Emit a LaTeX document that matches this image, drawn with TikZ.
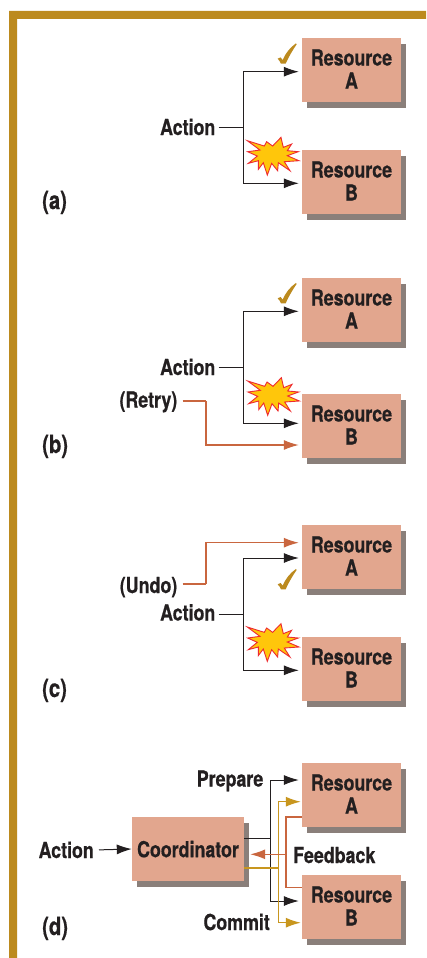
\documentclass[tikz,border=0pt]{standalone}
\usepackage{fontspec}
\setmainfont{TeX Gyre Heros}[FakeStretch=0.81,BoldFeatures={FakeBold=0.6}]
\usetikzlibrary{arrows.meta,shadows,calc}
\definecolor{frameC}{HTML}{BC8A1E}
\definecolor{boxC}{HTML}{E2A68E}
\definecolor{shadC}{HTML}{8A7F7A}
\definecolor{inkC}{HTML}{231F20}
\definecolor{retryC}{HTML}{C9663F}
\definecolor{goldC}{HTML}{C8961E}
\definecolor{burstF}{HTML}{FFC60B}
\definecolor{burstL}{HTML}{EE2A2F}
\tikzset{
 x=1pt,y=-1pt,
 every node/.style={font=\fontsize{22}{23}\selectfont\bfseries,text=inkC},
 resbox/.style={fill=boxC,inner sep=0pt,minimum width=99pt,minimum height=64pt,align=center,text depth=2pt,
   drop shadow={shadow xshift=5pt,shadow yshift=-6pt,opacity=1,fill=shadC}},
 coordbox/.style={resbox,minimum width=112pt,text depth=0pt},
 lab/.style={inner sep=0pt,text height=16pt,text depth=0pt},
 tag/.style={lab,font=\fontsize{25}{25}\selectfont\bfseries},
 conn/.style={draw=inkC,line width=1pt},
 connA/.style={conn,-{Latex[length=15pt,width=10pt]},shorten >=3pt},
 undoL/.style={draw=retryC,line width=1.3pt},
 undoA/.style={undoL,-{Latex[length=15pt,width=10pt]},shorten >=3pt},
 goldL/.style={draw=goldC,line width=1.3pt},
 goldA/.style={goldL,-{Latex[length=15pt,width=10pt]},shorten >=1pt},
 burst/.pic={
  \begin{scope}[x=.3333pt,y=-.3333pt]
  \draw[fill=burstF,draw=burstL,line width=.9pt,line join=miter]
   (-75,-45)--(-24,-29)--(-17,-42)--(1,-29)--(26,-55)--(33,-25)--(58,-35)--(45,-15)--(78,-12)--(45,0)--(80,15)--(36,18)--(53,45)--(18,21)--(16,45)--(-2,23)--(-15,58)--(-27,21)--(-42,41)--(-42,15)--(-72,23)--(-45,1)--(-74,-12)--(-37,-17)--cycle;
  \end{scope}},
 tick/.pic={
  \begin{scope}[x=.3333pt,y=-.3333pt]
  \fill[frameC] (-17,-12)--(-8,-16)--(-2,-8) .. controls (6,-27) and (20,-46) .. (38,-58) -- (40,-55) .. controls (28,-38) and (15,-15) .. (7,3) -- (-7,3) .. controls (-9,-3) and (-13,-8) .. cycle;
  \end{scope}},
}
\begin{document}
\begin{tikzpicture}
\useasboundingbox (0,0) rectangle (426,958);
\fill[white] (0,0) rectangle (426,958);
\fill[frameC] (9,958)--(9,11)--(426,11)--(426,19)--(17,19)--(17,958)--cycle;
% ---- (a)
\node[resbox] (ra) at (351.5,70) {Resource\\A};
\node[resbox] (rb) at (351.5,182) {Resource\\B};
\node[lab,anchor=east] (acta) at (215.5,127) {Action};
\node[tag,anchor=west] (la) at (42,201) {(a)};
\coordinate (ja) at (243.5,127.7);
\draw[conn,shorten <=3pt] (acta.east |- ja) -- (ja);
\draw[connA] (ja) |- ([yshift=-1.7pt]ra.west);
\draw[connA] (ja) |- ([yshift=-1.3pt]rb.west);
\pic at (283.3,62.7) {tick};
\pic at (272.3,155.7) {burst};
% ---- (b)
\node[resbox] (rc) at (351.5,310) {Resource\\A};
\node[resbox] (rd) at (351.5,426) {Resource\\B};
\node[lab,anchor=east] (actb) at (215.5,367) {Action};
\node[lab,anchor=east] (retry) at (177.5,399.5) {(Retry)};
\node[tag,anchor=west] (lb) at (42,445) {(b)};
\coordinate (jb) at (243.5,367.3);
\coordinate (jr) at (206,401);
\draw[conn,shorten <=3pt] (actb.east |- jb) -- (jb);
\draw[connA] (jb) |- ([yshift=-1.3pt]rc.west);
\draw[connA] (jb) |- ([yshift=2.7pt]rd.west);
\draw[undoL,shorten <=5pt] (retry.east |- jr) -- (jr);
\draw[undoA] (jr) |- ([yshift=-19pt]rd.west);
\pic at (283.3,302.3) {tick};
\pic at (272.7,396) {burst};
% ---- (c)
\node[resbox] (re) at (351.5,557) {Resource\\A};
\node[resbox] (rf) at (351.5,669) {Resource\\B};
\node[lab,anchor=east] (actc) at (215.5,612.5) {Action};
\node[lab,anchor=east] (undo) at (177.5,585) {(Undo)};
\node[tag,anchor=west] (lc) at (42,689) {(c)};
\coordinate (jc) at (243.5,614.3);
\coordinate (ju) at (206,584);
\draw[conn,shorten <=3pt] (actc.east |- jc) -- (jc);
\draw[connA] (jc) |- ([yshift=-1pt]re.west);
\draw[connA] (jc) |- ([yshift=-1.3pt]rf.west);
\draw[undoL,shorten <=5pt] (undo.east |- ju) -- (ju);
\draw[undoA] (ju) |- ([yshift=14.3pt]re.west);
\pic at (283.3,588.3) {tick};
\pic at (272.3,642) {burst};
% ---- (d)
\node[resbox] (rg) at (351.5,795) {Resource\\A};
\node[resbox] (rh) at (351.5,907) {Resource\\B};
\node[coordbox] (co) at (188,849) {Coordinator};
\node[lab,anchor=east] (actd) at (94,850) {Action};
\node[lab,anchor=east] (prep) at (263.5,778.5) {Prepare};
\node[lab,anchor=east] (comm) at (270,922) {Commit};
\node[lab,anchor=west] (fb) at (293,855) {Feedback};
\node[tag,anchor=west] (ld) at (42,927) {(d)};
\coordinate (jp) at (270.5,838.7);
\coordinate (jg) at (278.5,868);
\coordinate (jf) at (286,854.3);
\draw[connA,shorten >=0pt,shorten <=5pt] (actd.east) -- (co.west);
\draw[conn] (co.east |- jp) -- (jp);
\draw[connA] (jp) |- ([yshift=15pt]rg.west);
\draw[connA] (jp) |- ([yshift=6pt]rh.west);
\draw[goldL] (co.east |- jg) -- (jg);
\draw[goldA] (jg) |- ([yshift=-6.7pt]rg.west);
\draw[goldA] (jg) |- ([yshift=-15.7pt]rh.west);
\draw[undoL,line width=1.5pt] ([yshift=10pt]rg.south west) -| (jf);
\draw[undoL,line width=1.5pt] ([yshift=-12.7pt]rh.north west) -| (jf);
\draw[undoA,shorten >=6pt] (jf) -- ([yshift=-5.3pt]co.east);
\end{tikzpicture}
\end{document}
